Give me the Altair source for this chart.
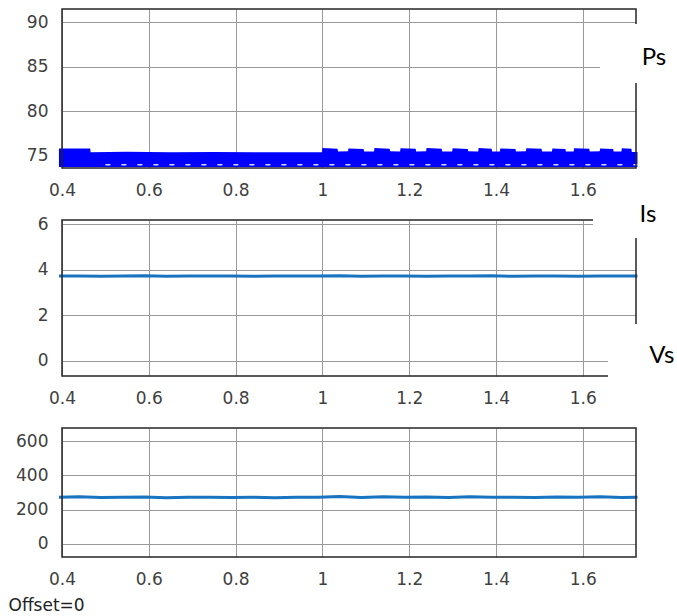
import altair as alt
import pandas as pd

# ---------------- data ----------------
X_DOMAIN = [0.4, 1.7226]
x_ticks = [0.4, 0.6, 0.8, 1.0, 1.2, 1.4, 1.6]

# Ps : dense oscillation, drawn as a band (upper envelope)
ps_t_up = [0.393, 0.465, 0.466, 0.55, 0.65, 0.75, 0.85, 0.95, 0.999,
           1.000, 1.035, 1.036, 1.059,
           1.060, 1.095, 1.096, 1.119,
           1.120, 1.155, 1.156, 1.179,
           1.180, 1.215, 1.216, 1.239,
           1.240, 1.275, 1.276, 1.299,
           1.300, 1.335, 1.336, 1.359,
           1.360, 1.390, 1.391, 1.409,
           1.410, 1.445, 1.446, 1.469,
           1.470, 1.505, 1.506, 1.529,
           1.530, 1.560, 1.561, 1.579,
           1.580, 1.615, 1.616, 1.639,
           1.640, 1.670, 1.671, 1.689,
           1.690, 1.712, 1.713, 1.726]
ps_up = [75.80, 75.80, 75.38, 75.42, 75.38, 75.40, 75.36, 75.38, 75.36,
         75.85, 75.78, 75.45, 75.48,
         75.80, 75.75, 75.45, 75.45,
         75.85, 75.78, 75.48, 75.45,
         75.82, 75.76, 75.45, 75.48,
         75.85, 75.78, 75.45, 75.45,
         75.82, 75.75, 75.48, 75.45,
         75.85, 75.78, 75.45, 75.45,
         75.80, 75.75, 75.45, 75.48,
         75.82, 75.76, 75.45, 75.45,
         75.80, 75.75, 75.45, 75.45,
         75.82, 75.76, 75.45, 75.48,
         75.80, 75.75, 75.45, 75.45,
         75.82, 75.76, 75.40, 75.40]
PS_FLOOR = 73.72
# gaps seen near the bottom of the Ps band
ps_gap_t = [0.5, 1.726]
ps_gap_v = [73.98, 73.98]

# Is and Vs
sig_t = [0.393, 0.44, 0.49, 0.54, 0.59, 0.64, 0.69, 0.74, 0.79, 0.84, 0.89, 0.94,
         0.99, 1.04, 1.09, 1.14, 1.19, 1.24, 1.29, 1.34, 1.39, 1.44, 1.49, 1.54,
         1.59, 1.64, 1.69, 1.726]
is_v = [3.72, 3.73, 3.71, 3.72, 3.74, 3.71, 3.72, 3.73, 3.72, 3.71, 3.73, 3.72,
        3.72, 3.74, 3.71, 3.73, 3.72, 3.71, 3.73, 3.72, 3.74, 3.71, 3.72, 3.73,
        3.71, 3.72, 3.73, 3.72]
vs_v = [273, 275, 271, 272, 274, 270, 272, 273, 271, 272, 270, 273,
        272, 276, 271, 275, 272, 274, 271, 275, 272, 273, 271, 274,
        272, 275, 271, 272]

# panel ranges and ticks
ps_domain = [73.6, 91.5]
is_domain = [-0.66, 6.18]
vs_domain = [-76, 676]
ps_ticks = [75, 80, 85, 90]
is_ticks = [0, 2, 4, 6]
vs_ticks = [0, 200, 400, 600]

# pasted-label patches (white boxes) and label texts, in data units
ps_patches = {"x": [1.6396], "x2": [1.817], "y": [89.81], "y2": [83.17]}
is_patches = {"x": [1.6235, 1.658], "x2": [1.817, 1.817],
              "y": [7.01, 1.62], "y2": [5.39, -1.76]}
ps_labels = {"x": [1.764], "y": [86.0], "text": ["Ps"]}
is_labels = {"x": [1.750, 1.782], "y": [6.40, 0.215], "text": ["Is", "Vs"]}

W = 574
FONT = "DejaVu Sans"


def panel(data_layer, ydom, yticks, height, patches=None, labels=None, xtitle=None):
    xs = alt.Scale(domain=X_DOMAIN, nice=False, zero=False)
    ys = alt.Scale(domain=ydom, nice=False, zero=False)
    xaxis_kwargs = dict(values=x_ticks, format="~f", grid=True, labelFlush=False)
    if xtitle:
        xaxis = alt.Axis(title=xtitle, titleX=-54, titleY=48, titleAlign="left",
                         titleBaseline="middle", titleAnchor="start", **xaxis_kwargs)
    else:
        xaxis = alt.Axis(title=None, **xaxis_kwargs)
    yaxis = alt.Axis(title=None, values=yticks, grid=True, labelFlush=False)

    def X(f):
        return alt.X(f, scale=xs, axis=xaxis)

    def Y(f):
        return alt.Y(f, scale=ys, axis=yaxis)

    layers = data_layer(X, Y)

    border = alt.Chart(pd.DataFrame({"x": [X_DOMAIN[0]], "x2": [X_DOMAIN[1]],
                                     "y": [ydom[0]], "y2": [ydom[1]]})).mark_rect(
        filled=False, stroke="#262626", strokeWidth=1.5
    ).encode(x=X("x:Q"), x2="x2:Q", y=Y("y:Q"), y2="y2:Q")
    layers.append(border)

    if patches:
        layers.append(alt.Chart(pd.DataFrame(patches)).mark_rect(fill="white").encode(
            x=X("x:Q"), x2="x2:Q", y=Y("y:Q"), y2="y2:Q"))
    if labels:
        layers.append(alt.Chart(pd.DataFrame(labels)).mark_text(
            font="Lato", fontSize=24, color="black", align="center", baseline="middle"
        ).encode(x=X("x:Q"), y=Y("y:Q"), text="text:N"))
    return alt.layer(*layers).properties(width=W, height=height)


def ps_layer(X, Y):
    df = pd.DataFrame({"t": ps_t_up, "v": ps_up})
    band = alt.Chart(df).mark_area(color="#0000FF", opacity=1, interpolate="linear").encode(
        x=X("t:Q"), y=Y("v:Q"), y2=alt.datum(PS_FLOOR),
    )
    gaps = alt.Chart(pd.DataFrame({"t": ps_gap_t, "v": ps_gap_v})).mark_line(
        color="white", strokeWidth=1.5, strokeDash=[5, 11], opacity=0.85
    ).encode(x=X("t:Q"), y=Y("v:Q"))
    return [band, gaps]


def is_layer(X, Y):
    df = pd.DataFrame({"t": sig_t, "v": is_v})
    return [alt.Chart(df).mark_line(color="#1873C0", strokeWidth=3).encode(
        x=X("t:Q"), y=Y("v:Q"))]


def vs_layer(X, Y):
    df = pd.DataFrame({"t": sig_t, "v": vs_v})
    return [alt.Chart(df).mark_line(color="#1873C0", strokeWidth=3).encode(
        x=X("t:Q"), y=Y("v:Q"))]


p1 = panel(ps_layer, ps_domain, ps_ticks, 159, ps_patches, ps_labels)
p2 = panel(is_layer, is_domain, is_ticks, 156, is_patches, is_labels)
p3 = panel(vs_layer, vs_domain, vs_ticks, 129, xtitle="Offset=0")

chart = alt.vconcat(p1, p2, p3, spacing=52, bounds="flush").properties(
    padding={"left": 8, "top": 8, "right": 0, "bottom": 0},
    background="white",
).configure_view(stroke=None).configure_axis(
    labelFont=FONT, labelFontSize=17, labelColor="#404040",
    titleFont=FONT, titleFontSize=17, titleFontWeight="normal", titleColor="#222222",
    gridColor="#9a9a9a", gridWidth=1, gridOpacity=1,
    domain=False, ticks=False, tickSize=0, labelPadding=14,
)

chart.save("out.html", embed_options={"renderer": "svg", "actions": False})
